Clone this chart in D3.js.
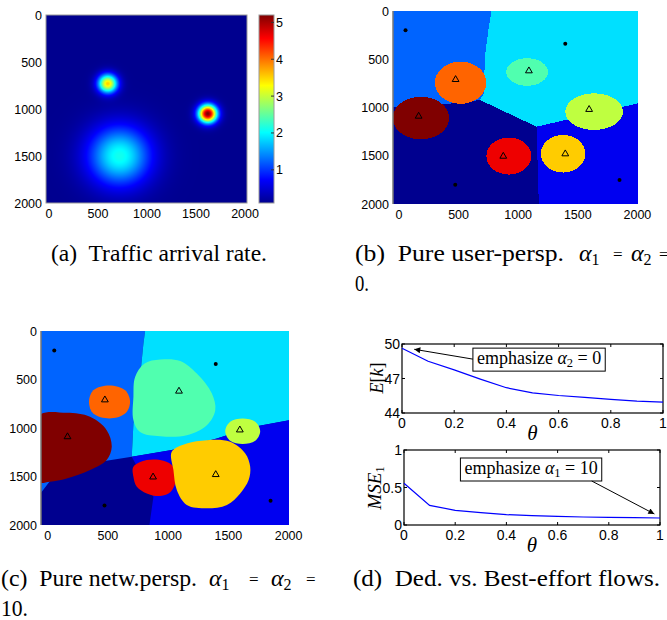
<!DOCTYPE html>
<html>
<head>
<meta charset="utf-8">
<script src="https://cdn.jsdelivr.net/npm/d3@7"></script>
<style>
  body { margin: 0; background: #fff; }
  text { font-family: "Liberation Sans", Arial, sans-serif; fill: #000; }
  .serif { font-family: "Liberation Serif", "Times New Roman", serif; }
  .pre { white-space: pre; }
</style>
</head>
<body>
<svg id="fig"></svg>
<script>
// ---------- data ----------
// (a) traffic hotspots: centre (m), peak rate, spread (m)
const hotX = [600, 1620, 720];
const hotY = [730, 1050, 1500];
const hotPeak = [3.4, 5.1, 2.0];
const hotSpread = [70, 67, 225];
const baseRate = 0.1;
const rateRange = [0.1, 5.2];
const mapTicks = [0, 500, 1000, 1500, 2000];
const cbarTicks = [1, 2, 3, 4, 5];

// base stations (triangles) and small-cell points (dots)
const bsX = [475, 1090, 165, 1595, 875, 1395];
const bsY = [700, 610, 1080, 1010, 1495, 1470];
const dotX = [55, 1395, 472, 1850];
const dotY = [200, 340, 1800, 1750];
const cellColors = ["#ff6400", "#50ffaf", "#800000", "#bfff40", "#ee0000", "#ffcc00"];
const baseColor = "#00008f";
const regionColors = ["#0064ff", "#00e0ff", "#0000f0"];

// (b) pure user perspective: macro regions + circular cells
const bRegions = [
  [[-50,0],[776,0],[754,162],[721,473],[712,853],[679,922],[455,957],[-50,1000]],
  [[776,0],[2005,0],[2005,957],[1154,1199],[679,922],[712,853],[721,473],[754,162]],
  [[1154,1199],[2005,957],[2005,2000],[1173,2000]]
];
const bCellX = [517, 1075, 184, 1637, 922, 1377];
const bCellY = [743, 632, 1109, 1043, 1503, 1479];
const bCellRx = [216, 175, 237, 242, 189, 187];
const bCellRy = [219, 143, 221, 190, 192, 195];

// (c) pure network perspective: macro regions + cell outlines
const cRegions = [
  [[-55,0],[809,0],[795,130],[767,473],[712,954],[698,1297],[435,1348],[47,1503],[-55,1667]],
  [[809,0],[2003,0],[2003,919],[1709,988],[1404,1108],[1030,1228],[698,1297],[712,954],[767,473],[795,130]],
  [[698,1297],[1030,1228],[1404,1108],[1709,988],[2003,919],[2003,2000],[845,2000],[878,1708]]
];
const cCells = [
  [[343,731],[379,611],[512,562],[643,611],[684,731],[643,851],[512,902],[379,851]],
  [[726,473],[805,336],[934,295],[1100,309],[1238,439],[1363,645],[1391,816],[1321,971],[1155,1074],[934,1084],[767,1040],[712,919],[712,679]],
  [[-80,878],[158,844],[352,885],[490,1022],[532,1194],[490,1331],[352,1434],[158,1520],[19,1554],[-80,1554]],
  [[1474,1033],[1515,936],[1618,902],[1723,936],[1764,1033],[1723,1132],[1618,1166],[1515,1132]],
  [[712,1400],[823,1331],[961,1338],[1044,1400],[1064,1537],[1022,1657],[934,1701],[823,1674],[740,1605],[712,1502]],
  [[1030,1245],[1155,1160],[1321,1125],[1515,1142],[1640,1262],[1681,1400],[1668,1537],[1598,1674],[1488,1794],[1321,1828],[1155,1794],[1072,1640],[1044,1434]]
];

// (d) dedicated vs best-effort flows
const theta = [0, 0.1, 0.2, 0.3, 0.4, 0.5, 0.6, 0.7, 0.8, 0.9, 1];
const expK = [49.63, 48.5, 47.75, 46.95, 46.2, 45.75, 45.52, 45.36, 45.18, 45.03, 44.94];
const mse1 = [0.556, 0.262, 0.196, 0.164, 0.138, 0.124, 0.116, 0.107, 0.102, 0.098, 0.093];
const thetaTicks = [0, 0.2, 0.4, 0.6, 0.8, 1];
const eTicks = [44, 47, 50];
const mseTicks = [0, 0.5, 1];

// ---------- layout ----------
const W = 667, H = 620;
const svg = d3.select("#fig").attr("width", W).attr("height", H);
svg.append("rect").attr("width", W).attr("height", H).attr("fill", "#fff");
const defs = svg.append("defs");

const jet = d3.scaleLinear()
  .domain([0, 0.125, 0.375, 0.625, 0.875, 1])
  .range(["#00008f", "#0000ff", "#00ffff", "#ffff00", "#ff0000", "#800000"])
  .clamp(true);

// common map axes helper
function mapAxes(box, xDom, id) {
  const x = d3.scaleLinear().domain(xDom).range([box.x0, box.x1]);
  const y = d3.scaleLinear().domain([0, 2000]).range([box.y0, box.y1]);
  defs.append("clipPath").attr("id", id)
    .append("rect").attr("x", box.x0).attr("y", box.y0)
    .attr("width", box.x1 - box.x0).attr("height", box.y1 - box.y0);
  return { x, y };
}

function mapTickLabels(g, box, x, y) {
  g.selectAll(".xl").data(mapTicks).join("text")
    .attr("x", d => x(d)).attr("y", box.y1 + 15)
    .attr("text-anchor", "middle").attr("font-size", 12.5).text(d => d);
  g.selectAll(".yl").data(mapTicks).join("text")
    .attr("x", box.x0 - 4).attr("y", d => y(d) + 4.5)
    .attr("text-anchor", "end").attr("font-size", 12.5).text(d => d);
}

function stations(g, x, y) {
  g.selectAll(".bs").data(bsX).join("path")
    .attr("d", d3.symbol(d3.symbolTriangle).size(20))
    .attr("transform", (d, i) => `translate(${x(d)},${y(bsY[i]) + 1})`)
    .attr("fill", "none").attr("stroke", "#000").attr("stroke-width", 1);
  g.selectAll(".dot").data(dotX).join("circle")
    .attr("cx", d => x(d)).attr("cy", (d, i) => y(dotY[i]))
    .attr("r", 2).attr("fill", "#000");
}

// ---------- (a) traffic arrival rate ----------
const A = { x0: 46, x1: 247, y0: 15, y1: 203 };
const gA = svg.append("g");
const sa = mapAxes(A, [-30, 2020], "clipA");
{
  const aw = A.x1 - A.x0, ah = A.y1 - A.y0;
  const cv = document.createElement("canvas");
  cv.width = aw; cv.height = ah;
  const ctx = cv.getContext("2d");
  const img = ctx.createImageData(aw, ah);
  const tRate = d3.scaleLinear().domain(rateRange).range([0, 1]);
  for (let j = 0; j < ah; j++) {
    for (let i = 0; i < aw; i++) {
      const mx = sa.x.invert(A.x0 + i + 0.5), my = sa.y.invert(A.y0 + j + 0.5);
      let v = baseRate;
      hotX.forEach((hx, k) => {
        const d2 = (mx - hx) ** 2 + (my - hotY[k]) ** 2;
        v += hotPeak[k] * Math.exp(-d2 / (2 * hotSpread[k] ** 2));
      });
      const c = d3.rgb(jet(tRate(v)));
      const p = (j * aw + i) * 4;
      img.data[p] = c.r; img.data[p + 1] = c.g; img.data[p + 2] = c.b; img.data[p + 3] = 255;
    }
  }
  ctx.putImageData(img, 0, 0);
  gA.append("image").attr("x", A.x0).attr("y", A.y0)
    .attr("width", aw).attr("height", ah).attr("href", cv.toDataURL());
}
gA.append("rect").attr("x", A.x0).attr("y", A.y0)
  .attr("width", A.x1 - A.x0).attr("height", A.y1 - A.y0)
  .attr("fill", "none").attr("stroke", "#9a9a9a");
mapTickLabels(gA, A, sa.x, sa.y);

// colorbar
const CB = { x0: 259, x1: 274, y0: 15, y1: 203 };
const cbY = d3.scaleLinear().domain(rateRange).range([CB.y1, CB.y0]);
const grad = defs.append("linearGradient").attr("id", "jetGrad")
  .attr("x1", 0).attr("y1", 1).attr("x2", 0).attr("y2", 0);
d3.range(0, 1.0001, 0.0625).forEach(t =>
  grad.append("stop").attr("offset", t).attr("stop-color", jet(t)));
gA.append("rect").attr("x", CB.x0).attr("y", CB.y0)
  .attr("width", CB.x1 - CB.x0).attr("height", CB.y1 - CB.y0)
  .attr("fill", "url(#jetGrad)").attr("stroke", "#9a9a9a");
gA.selectAll(".cbt").data(cbarTicks).join("line")
  .attr("x1", CB.x1 - 3).attr("x2", CB.x1)
  .attr("y1", d => cbY(d)).attr("y2", d => cbY(d))
  .attr("stroke", "#333");
gA.selectAll(".cbl").data(cbarTicks).join("text")
  .attr("x", CB.x1 + 2).attr("y", d => cbY(d) + 4.5)
  .attr("font-size", 12.5).text(d => d);

// ---------- (b) pure user perspective ----------
const B = { x0: 393, x1: 638, y0: 11, y1: 204 };
const sb = mapAxes(B, [-50, 2005], "clipB");
const gB = svg.append("g");
const gBm = gB.append("g").attr("clip-path", "url(#clipB)").attr("shape-rendering", "crispEdges");
const poly = (x, y) => d3.line().x(d => x(d[0])).y(d => y(d[1]));
gBm.append("rect").attr("x", B.x0).attr("y", B.y0)
  .attr("width", B.x1 - B.x0).attr("height", B.y1 - B.y0).attr("fill", baseColor);
gBm.selectAll(".reg").data(bRegions).join("path")
  .attr("d", d => poly(sb.x, sb.y)(d) + "Z")
  .attr("fill", (d, i) => regionColors[i]);
gBm.selectAll(".cell").data(bCellX).join("ellipse")
  .attr("cx", d => sb.x(d)).attr("cy", (d, i) => sb.y(bCellY[i]))
  .attr("rx", (d, i) => sb.x(d + bCellRx[i]) - sb.x(d))
  .attr("ry", (d, i) => sb.y(bCellY[i] + bCellRy[i]) - sb.y(bCellY[i]))
  .attr("fill", (d, i) => cellColors[i]);
stations(gB, sb.x, sb.y);
gB.append("line").attr("x1", B.x0).attr("x2", B.x0).attr("y1", B.y0).attr("y2", B.y1)
  .attr("stroke", "#777").attr("stroke-width", 1.5);
mapTickLabels(gB, B, sb.x, sb.y);

// ---------- (c) pure network perspective ----------
const C = { x0: 41, x1: 289, y0: 331, y1: 525 };
const sc = mapAxes(C, [-55, 2003], "clipC");
const gC = svg.append("g");
const gCm = gC.append("g").attr("clip-path", "url(#clipC)");
gCm.append("rect").attr("x", C.x0).attr("y", C.y0)
  .attr("width", C.x1 - C.x0).attr("height", C.y1 - C.y0).attr("fill", baseColor);
gCm.selectAll(".reg").data(cRegions).join("path")
  .attr("d", d => poly(sc.x, sc.y)(d) + "Z")
  .attr("fill", (d, i) => regionColors[i]);
const blob = d3.line().x(d => sc.x(d[0])).y(d => sc.y(d[1])).curve(d3.curveCatmullRomClosed.alpha(0.5));
gCm.selectAll(".cell").data(cCells).join("path")
  .attr("d", blob).attr("fill", (d, i) => cellColors[i]);
stations(gC, sc.x, sc.y);
gC.append("line").attr("x1", C.x0).attr("x2", C.x0).attr("y1", C.y0).attr("y2", C.y1)
  .attr("stroke", "#777").attr("stroke-width", 1.5);
mapTickLabels(gC, C, sc.x, sc.y);

// ---------- (d) dedicated vs best-effort ----------
defs.append("marker").attr("id", "arrow").attr("viewBox", "0 0 10 10")
  .attr("refX", 10).attr("refY", 5).attr("markerWidth", 8).attr("markerHeight", 6)
  .attr("markerUnits", "userSpaceOnUse").attr("orient", "auto")
  .append("path").attr("d", "M0,0L10,5L0,10Z").attr("fill", "#000");

function linePanel(box, yDom, yTicks, vals) {
  const g = svg.append("g");
  const x = d3.scaleLinear().domain([0, 1]).range([box.x0, box.x1]);
  const y = d3.scaleLinear().domain(yDom).range([box.y1, box.y0]);
  g.append("rect").attr("x", box.x0).attr("y", box.y0)
    .attr("width", box.x1 - box.x0).attr("height", box.y1 - box.y0)
    .attr("fill", "#fff").attr("stroke", "#000").attr("stroke-width", 1.2);
  thetaTicks.forEach(t => {
    g.append("line").attr("x1", x(t)).attr("x2", x(t)).attr("y1", box.y1).attr("y2", box.y1 - 3).attr("stroke", "#000");
    g.append("line").attr("x1", x(t)).attr("x2", x(t)).attr("y1", box.y0).attr("y2", box.y0 + 3).attr("stroke", "#000");
  });
  yTicks.forEach(t => {
    g.append("line").attr("x1", box.x0).attr("x2", box.x0 + 3).attr("y1", y(t)).attr("y2", y(t)).attr("stroke", "#000");
    g.append("line").attr("x1", box.x1).attr("x2", box.x1 - 3).attr("y1", y(t)).attr("y2", y(t)).attr("stroke", "#000");
  });
  g.selectAll(".xl").data(thetaTicks).join("text")
    .attr("x", d => x(d)).attr("y", box.y1 + 15).attr("text-anchor", "middle")
    .attr("font-size", 14).text(d => d);
  g.selectAll(".yl").data(yTicks).join("text")
    .attr("x", box.x0 - 2).attr("y", d => y(d) + 5).attr("text-anchor", "end")
    .attr("font-size", 14).text(d => d);
  g.append("path").datum(vals)
    .attr("d", d3.line().x((d, i) => x(theta[i])).y(d => y(d)))
    .attr("fill", "none").attr("stroke", "#0000ff").attr("stroke-width", 1.2);
  g.append("text").attr("class", "serif").attr("x", x(0.5)).attr("y", box.y1 + 27)
    .attr("text-anchor", "middle").attr("font-size", 21).attr("font-style", "italic").text("θ");
  return { g, x, y };
}

function annotate(p, tx, ty, sub, rest, from, to) {
  const t = p.g.append("text").attr("class", "serif pre").attr("x", p.x(tx)).attr("y", p.y(ty))
    .attr("font-size", 18);
  t.append("tspan").text("emphasize ");
  t.append("tspan").attr("font-style", "italic").text("α");
  t.append("tspan").attr("font-size", 12.5).attr("dy", 3).text(sub);
  t.append("tspan").attr("dy", -3).text(" = " + rest);
  const bb = t.node().getBBox();
  p.g.insert("rect", "text.serif").attr("x", bb.x - 4).attr("y", bb.y)
    .attr("width", bb.width + 8).attr("height", bb.height + 1)
    .attr("fill", "#fff").attr("stroke", "#000").attr("stroke-width", 1);
  const f = from(bb);
  p.g.append("line")
    .attr("x1", f[0]).attr("y1", f[1])
    .attr("x2", p.x(to[0])).attr("y2", p.y(to[1]))
    .attr("stroke", "#000").attr("marker-end", "url(#arrow)");
}

const D1 = { x0: 402, x1: 663, y0: 344, y1: 413 };
const D2 = { x0: 404, x1: 660, y0: 450, y1: 525 };
const p1 = linePanel(D1, [44, 50], eTicks, expK);
const p2 = linePanel(D2, [0, 1], mseTicks, mse1);
annotate(p1, 0.287, 48.25, "2", "0", bb => [bb.x - 4, bb.y + bb.height / 2], [0.047, 49.54]);
annotate(p2, 0.236, 0.68, "1", "10", bb => [bb.x + bb.width - 6, bb.y + bb.height + 1], [0.978, 0.147]);

// y labels
const yl1 = svg.append("text").attr("class", "serif").attr("font-size", 18)
  .attr("text-anchor", "middle").attr("transform", "translate(383,378) rotate(-90)");
yl1.append("tspan").attr("font-style", "italic").text("E");
yl1.append("tspan").text("[");
yl1.append("tspan").attr("font-style", "italic").text("k");
yl1.append("tspan").text("]");
const yl2 = svg.append("text").attr("class", "serif").attr("font-size", 19)
  .attr("text-anchor", "middle").attr("transform", "translate(381,488) rotate(-90)");
yl2.append("tspan").attr("font-style", "italic").text("MSE");
yl2.append("tspan").attr("font-size", 12).attr("dy", 3).text("1");

// ---------- captions ----------
function caption(x, y, str, len, math) {
  const t = svg.append("text").attr("class", "serif pre").attr("font-size", 24);
  t.append("tspan").attr("x", x).attr("y", y)
    .attr("textLength", len).attr("lengthAdjust", "spacingAndGlyphs").text(str);
  (math || []).forEach(p => {
    if (p.alpha) {
      t.append("tspan").attr("x", p.x).attr("y", y).attr("font-style", "italic").text("α");
      t.append("tspan").attr("font-size", 16).attr("y", y + 4).text(p.alpha);
    } else {
      t.append("tspan").attr("x", p.x).attr("y", y - 1).attr("font-size", 17).text("=");
    }
  });
}
caption(51, 261, "(a)  Traffic arrival rate.", 216);
caption(355, 261, "(b)  Pure user-persp.", 209,
  [{ x: 579, alpha: "1" }, { x: 613 }, { x: 631, alpha: "2" }, { x: 659 }]);
caption(355, 291, "0.", 14);
caption(1, 586, "(c)  Pure netw.persp.", 196,
  [{ x: 209, alpha: "1" }, { x: 249 }, { x: 271, alpha: "2" }, { x: 306 }]);
caption(1, 616, "10.", 27);
caption(353, 586, "(d)  Ded. vs. Best-effort flows.", 307);
</script>
</body>
</html>
